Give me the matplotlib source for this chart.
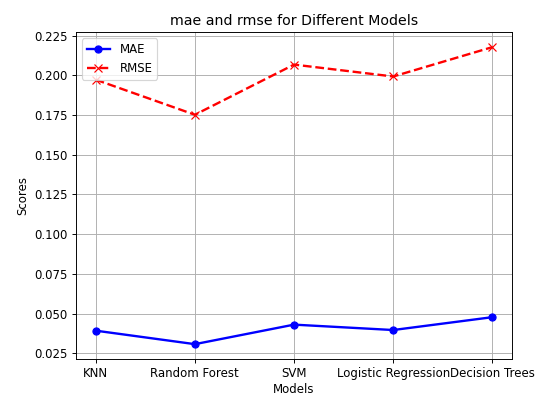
import matplotlib
matplotlib.use('Agg')
import matplotlib.pyplot as plt

models = ['KNN', 'Random Forest', 'SVM', 'Logistic Regression', 'Decision Trees']
mae = [0.0392, 0.0307, 0.0430, 0.0396, 0.0477]
rmse = [0.1973, 0.1752, 0.2068, 0.1993, 0.2178]

DPI = 85
fig = plt.figure(figsize=(542 / DPI, 397 / DPI), dpi=DPI)
ax = fig.add_axes([0.140, 0.0957, 0.805, 0.823])

ax.plot(models, mae, marker='o', linestyle='-', color='b', linewidth=2, label='MAE')
ax.plot(models, rmse, marker='x', linestyle='--', color='r', linewidth=2, label='RMSE')

ax.set_title('mae and rmse for Different Models')
ax.set_xlabel('Models', labelpad=2)
ax.set_ylabel('Scores')
ax.legend(loc='upper left')
ax.grid(True)

fig.savefig('out.png', dpi=DPI)
